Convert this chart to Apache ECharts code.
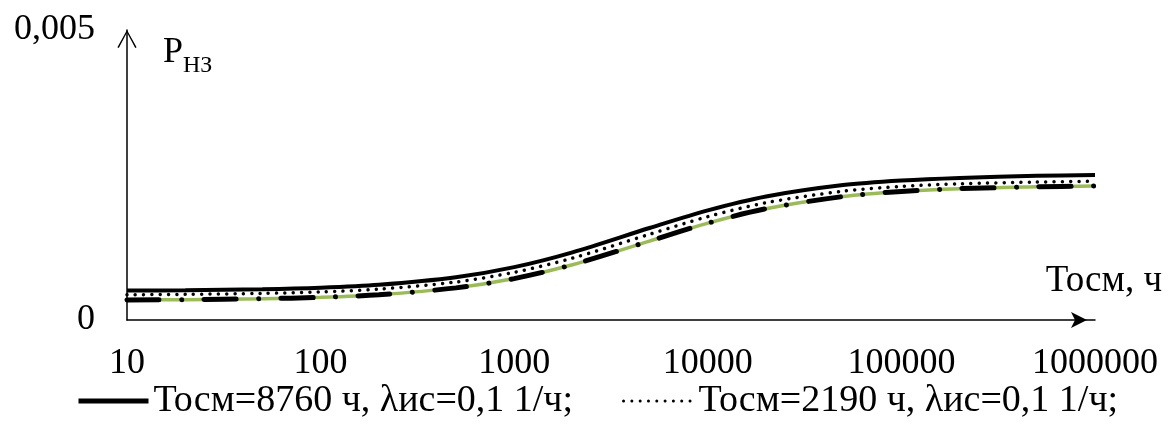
<!DOCTYPE html>
<html>
<head>
<meta charset="utf-8">
<script src="https://cdn.jsdelivr.net/npm/echarts@6/dist/echarts.min.js"></script>
<style>
html,body{margin:0;padding:0;background:#fff;}
#chart{width:1173px;height:426px;}
</style>
</head>
<body>
<div id="chart"></div>
<script>
// ---- data ----
const xValues = [10, 20, 50, 100, 200, 500, 1000, 2000, 5000, 10000, 20000, 50000, 100000, 200000, 500000, 1000000];
const solidValues  = [0.000507, 0.000513, 0.000530, 0.000557, 0.000608, 0.000738, 0.000912, 0.001167, 0.001586, 0.001890, 0.002130, 0.002326, 0.002405, 0.002450, 0.002485, 0.002500];
const dottedValues = [0.000436, 0.000442, 0.000459, 0.000484, 0.000532, 0.000655, 0.000822, 0.001067, 0.001478, 0.001782, 0.002022, 0.002221, 0.002303, 0.002348, 0.002378, 0.002392];
const dashDotValues = [0.000346, 0.000351, 0.000367, 0.000391, 0.000436, 0.000554, 0.000714, 0.000953, 0.001361, 0.001670, 0.001919, 0.002129, 0.002216, 0.002265, 0.002296, 0.002312];
const greenValues   = [0.000346, 0.000351, 0.000367, 0.000391, 0.000436, 0.000554, 0.000714, 0.000953, 0.001361, 0.001670, 0.001919, 0.002129, 0.002216, 0.002265, 0.002296, 0.002312];
const seriesNames = ['Тосм=8760 ч, λис=0,1 1/ч;', 'Тосм=2190 ч, λис=0,1 1/ч;', 'ряд 3', 'ряд 4'];
const xAxisName = 'Тосм, ч';
const yAxisMain = 'Р';
const yAxisSub = 'НЗ';
const yMin = 0, yMax = 0.005;
const xMin = 10, xMax = 1000000;

const FONT = "'Liberation Serif', 'DejaVu Serif', serif";
const pairs = vals => xValues.map((x, i) => [x, vals[i]]);

const chart = echarts.init(document.getElementById('chart'), null, {renderer: 'canvas'});
chart.setOption({
  animation: false,
  backgroundColor: '#fff',
  grid: {left: 127, right: 78, top: 30, bottom: 106, containLabel: false},
  legend: {
    data: [
      {name: seriesNames[0], lineStyle: {width: 5}},
      {name: seriesNames[1], lineStyle: {width: 3}}
    ],
    left: 76, top: 382, padding: 0,
    itemWidth: 70, itemHeight: 14, itemGap: 49,
    itemStyle: {opacity: 0},
    textStyle: {fontFamily: FONT, fontSize: 38, color: '#000'}
  },
  xAxis: {
    type: 'log', logBase: 10, min: xMin, max: xMax,
    name: xAxisName, nameLocation: 'end', nameGap: 67,
    nameTextStyle: {fontFamily: FONT, fontSize: 37, color: '#000', align: 'right', verticalAlign: 'bottom', padding: [0, 0, 20, 0]},
    axisLine: {show: true, lineStyle: {color: '#000', width: 1.5}, symbol: ['none', 'arrow'], symbolSize: [12, 16], symbolOffset: [0, -8]},
    axisTick: {show: false}, minorTick: {show: false},
    splitLine: {show: false}, minorSplitLine: {show: false},
    axisLabel: {fontFamily: FONT, fontSize: 36, color: '#000', margin: 26,
      formatter: v => String(Math.round(v))}
  },
  yAxis: {
    type: 'value', min: yMin, max: yMax, interval: 0.005,
    name: '{p|' + yAxisMain + '}{s|' + yAxisSub + '}', nameLocation: 'end', nameGap: -23,
    nameTextStyle: {align: 'left', verticalAlign: 'middle', padding: [0, 0, 0, 36],
      rich: {p: {fontFamily: FONT, fontSize: 36, color: '#000'},
             s: {fontFamily: FONT, fontSize: 24, color: '#000', padding: [26, 0, 0, 0]}}},
    axisLine: {show: true, lineStyle: {color: '#000', width: 1.5},
      symbol: ['none', 'path://M10,0 L20,18 L18.6,18.8 L10,2.6 L1.4,18.8 L0,18 Z'], symbolSize: [20, 18], symbolOffset: [0, -9]},
    axisTick: {show: false}, splitLine: {show: false},
    axisLabel: {fontFamily: FONT, fontSize: 36, color: '#000', margin: 32,
      formatter: v => v === 0 ? '0' : String(v).replace('.', ',')}
  },
  series: [
    {name: seriesNames[3], type: 'line', data: pairs(greenValues), smooth: 0.3, symbol: 'none',
      lineStyle: {color: '#9BBB59', width: 3.5}, itemStyle: {color: '#9BBB59'}, z: 1},
    {name: seriesNames[2], type: 'line', data: pairs(dashDotValues), smooth: 0.3, symbol: 'none',
      lineStyle: {color: '#000', width: 5, type: [32, 22.5, 0.01, 22.5], cap: 'round'}, itemStyle: {color: '#000'}, z: 2},
    {name: seriesNames[1], type: 'line', data: pairs(dottedValues), smooth: 0.3, symbol: 'none',
      lineStyle: {color: '#000', width: 3.5, type: [0.01, 8.3], cap: 'round'}, itemStyle: {color: '#000'}, z: 3},
    {name: seriesNames[0], type: 'line', data: pairs(solidValues), smooth: 0.3, symbol: 'none',
      lineStyle: {color: '#000', width: 4}, itemStyle: {color: '#000'}, z: 4}
  ]
});
</script>
</body>
</html>
